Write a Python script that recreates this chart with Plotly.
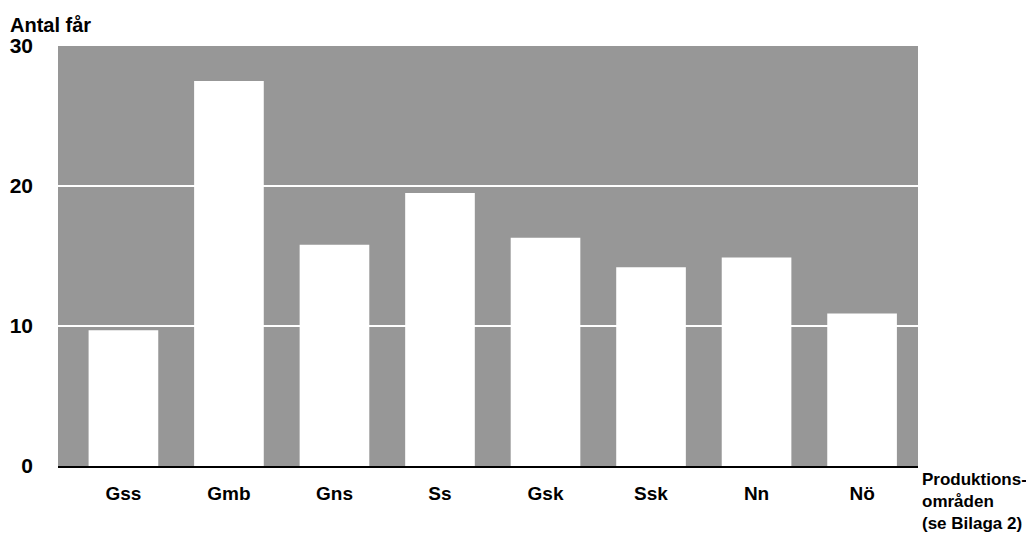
import plotly.graph_objects as go

# Production areas and number of sheep
omraden = ["Gss", "Gmb", "Gns", "Ss", "Gsk", "Ssk", "Nn", "Nö"]
antal_far = [9.7, 27.5, 15.8, 19.5, 16.3, 14.2, 14.9, 10.9]
y_ticks = [0, 10, 20, 30]

FONT = "Liberation Sans, Arial, sans-serif"

# page body has an 8px margin, so the figure is drawn a bit smaller
W, H = 1026, 537
L, R, T, B = 50, 116, 38, 79

fig = go.Figure()
fig.add_trace(go.Bar(
    x=omraden, y=antal_far,
    marker=dict(color="white", line=dict(width=0)),
    width=0.66,
))

fig.update_layout(
    width=W, height=H,
    margin=dict(l=L, r=R, t=T, b=B, autoexpand=False),
    plot_bgcolor="#979797",
    paper_bgcolor="white",
    showlegend=False,
    font=dict(family=FONT, color="black", size=16, weight="bold"),
)

fig.update_xaxes(
    range=[-0.62, 7.53],
    automargin=False,
    showgrid=False,
    showline=True, linecolor="black", linewidth=2,
    ticks="", ticklabelstandoff=9,
    tickfont=dict(size=19, weight="bold"),
)
fig.update_yaxes(
    range=[0, 30],
    automargin=False,
    tickvals=y_ticks,
    showgrid=True, gridcolor="white", gridwidth=1.5,
    zeroline=False,
    ticks="", ticklabelstandoff=24,
    tickfont=dict(size=21, weight="bold"),
)

fig.add_annotation(
    text="Antal får", xref="paper", yref="paper",
    x=-L / (W - L - R), y=1.0, yshift=21, xanchor="left", yanchor="middle",
    showarrow=False, font=dict(size=20, weight="bold"),
)
fig.add_annotation(
    text="Produktions-<br>områden<br>(se Bilaga 2)",
    xref="paper", yref="paper",
    x=1.0, xshift=2, y=0, yshift=-2,
    xanchor="left", yanchor="top", align="left",
    showarrow=False, font=dict(size=17, weight="bold"),
)

fig.write_html("out.html")
